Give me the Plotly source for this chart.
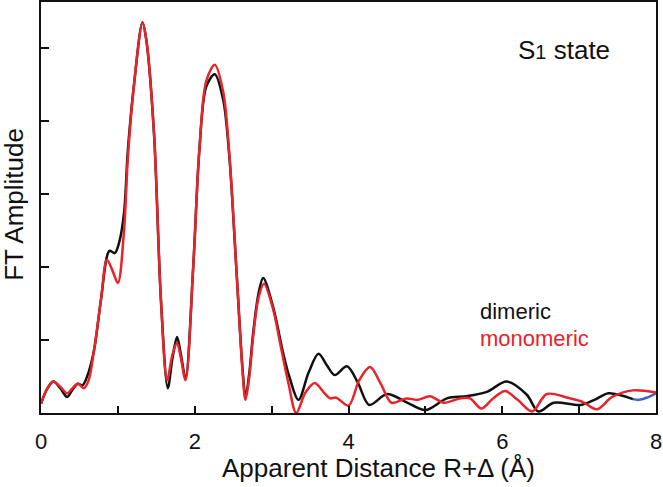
import plotly.graph_objects as go

# ---- data ----
dimeric_x = [0.00, 0.08, 0.16, 0.25, 0.34, 0.41, 0.48, 0.54, 0.60, 0.69, 0.78, 0.89, 0.96, 1.02,
             1.08, 1.13, 1.21, 1.32, 1.37, 1.47, 1.56, 1.65, 1.71, 1.77, 1.82, 1.88, 1.98, 2.06,
             2.15, 2.26, 2.37, 2.45, 2.54, 2.62, 2.66, 2.71, 2.76, 2.83, 2.89, 3.02, 3.15, 3.23,
             3.35, 3.48, 3.61, 3.72, 3.82, 3.98, 4.12, 4.27, 4.50, 4.75, 5.00, 5.28, 5.54, 5.80,
             6.06, 6.32, 6.47, 6.67, 7.02, 7.20, 7.38, 7.55, 7.70]
dimeric_y = [0.13, 0.33, 0.43, 0.34, 0.22, 0.32, 0.40, 0.38, 0.50, 0.86, 1.55, 2.22, 2.19, 2.35,
             2.74, 3.60, 4.50, 5.35, 5.11, 3.83, 1.55, 0.34, 0.75, 1.04, 0.80, 0.48, 2.00, 3.60,
             4.47, 4.64, 4.29, 3.51, 2.00, 0.63, 0.22, 0.55, 1.10, 1.64, 1.85, 1.45, 0.82, 0.50,
             0.18, 0.55, 0.81, 0.65, 0.52, 0.64, 0.42, 0.11, 0.26, 0.15, 0.04, 0.20, 0.23, 0.29,
             0.43, 0.25, 0.02, 0.14, 0.11, 0.18, 0.27, 0.24, 0.19]

monomeric_x = [0.00, 0.08, 0.16, 0.25, 0.34, 0.41, 0.48, 0.56, 0.62, 0.69, 0.78, 0.857, 0.93,
               1.00, 1.08, 1.13, 1.21, 1.32, 1.37, 1.47, 1.56, 1.64, 1.71, 1.77, 1.82, 1.88,
               1.98, 2.06, 2.15, 2.26, 2.37, 2.45, 2.54, 2.62, 2.66, 2.71, 2.76, 2.83, 2.90,
               3.02, 3.11, 3.22, 3.32, 3.44, 3.56, 3.68, 3.76, 3.84, 4.00, 4.14, 4.28, 4.42,
               4.56, 4.75, 4.90, 5.06, 5.24, 5.45, 5.58, 5.73, 5.88, 6.04, 6.20, 6.39, 6.58,
               6.88, 7.05, 7.23, 7.43, 7.70, 8.00]
monomeric_y = [0.13, 0.33, 0.43, 0.36, 0.27, 0.34, 0.40, 0.34, 0.45, 0.86, 1.55, 2.10, 1.95,
               1.78, 2.50, 3.50, 4.50, 5.35, 5.11, 3.83, 1.55, 0.45, 0.80, 0.96, 0.75, 0.45,
               2.00, 3.60, 4.55, 4.77, 4.40, 3.55, 2.00, 0.60, 0.18, 0.50, 1.05, 1.58, 1.77,
               1.42, 0.96, 0.40, 0.00, 0.28, 0.41, 0.28, 0.20, 0.21, 0.10, 0.45, 0.63, 0.40,
               0.14, 0.20, 0.18, 0.23, 0.14, 0.20, 0.20, 0.06, 0.20, 0.30, 0.18, 0.02, 0.26,
               0.20, 0.15, 0.05, 0.22, 0.31, 0.28]

extra_x = [7.70, 7.78, 7.88, 8.00]
extra_y = [0.19, 0.18, 0.21, 0.27]

series_names = ["dimeric", "monomeric"]
x_tick_vals = [0, 1, 2, 3, 4, 5, 6, 7, 8]
x_tick_text = ["0", "", "2", "", "4", "", "6", "", "8"]
y_tick_vals = [1, 2, 3, 4, 5]

BLACK = "#111111"
RED = "#e8232a"
BLUE = "#3a62c4"
FONT = "Liberation Sans, Arial, Helvetica, sans-serif"

fig = go.Figure()
fig.add_trace(go.Scatter(x=extra_x, y=extra_y, mode="lines", line=dict(color=BLUE, width=2.5, shape="spline"),
                         showlegend=False, hoverinfo="skip"))
fig.add_trace(go.Scatter(x=dimeric_x, y=dimeric_y, mode="lines", name=series_names[0],
                         line=dict(color=BLACK, width=2.5, shape="spline", smoothing=0.9)))
fig.add_trace(go.Scatter(x=monomeric_x, y=monomeric_y, mode="lines", name=series_names[1],
                         line=dict(color=RED, width=2.5, shape="spline", smoothing=0.9)))

fig.update_layout(
    width=663, height=487,
    margin=dict(l=41, r=7, t=2, b=74, autoexpand=False),
    paper_bgcolor="white", plot_bgcolor="white",
    showlegend=False,
    font=dict(family=FONT, color="#111111"),
    xaxis=dict(range=[0, 8], showgrid=False, zeroline=False, showline=True, linecolor=BLACK,
               linewidth=2, mirror=True, ticks="inside", ticklen=7, tickwidth=1.5, tickcolor=BLACK,
               tickvals=x_tick_vals, ticktext=x_tick_text, tickfont=dict(size=22, family=FONT),
               ticklabelstandoff=8, automargin=False),
    yaxis=dict(range=[0, 5.63], showgrid=False, zeroline=False, showline=True, linecolor=BLACK,
               linewidth=2, mirror=True, ticks="inside", ticklen=8, tickwidth=1.5, tickcolor=BLACK,
               tickvals=y_tick_vals, showticklabels=False, automargin=False),
    annotations=[
        dict(text="Apparent Distance R+Δ (Å)", xref="paper", yref="paper", x=0.549, y=-0.133,
             xanchor="center", yanchor="middle", showarrow=False, font=dict(size=26, family=FONT)),
        dict(text="FT Amplitude", xref="paper", yref="paper", x=-0.043, y=0.508, textangle=-90,
             xanchor="center", yanchor="middle", showarrow=False, font=dict(size=26, family=FONT)),
        dict(text="S<span style='font-size:20px'>1</span> state", xref="paper", yref="paper",
             x=0.85, y=0.883, xanchor="center", yanchor="middle", showarrow=False,
             font=dict(size=26, family=FONT)),
        dict(text=series_names[0], xref="paper", yref="paper", x=0.711, y=0.246, xanchor="left",
             yanchor="middle", showarrow=False, font=dict(size=22, family=FONT, color=BLACK)),
        dict(text=series_names[1], xref="paper", yref="paper", x=0.711, y=0.182, xanchor="left",
             yanchor="middle", showarrow=False, font=dict(size=22, family=FONT, color=RED)),
    ],
)

fig.write_html("out.html", config={"displayModeBar": False},
               post_script="document.body.style.margin='0px';")
